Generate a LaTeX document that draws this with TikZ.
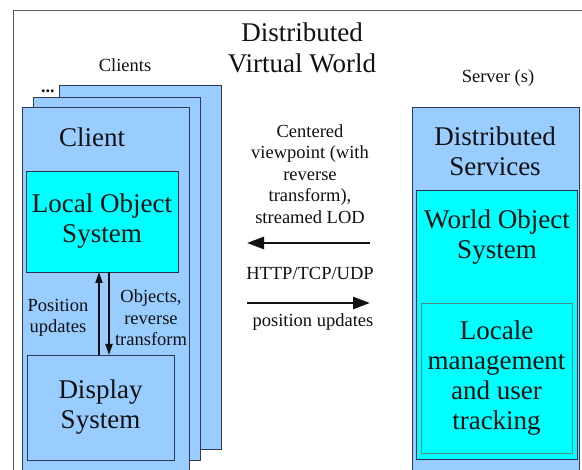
\documentclass[tikz,border=0pt]{standalone}
\usepackage{fontspec}
\setmainfont{Liberation Serif}[Ligatures=TeX]
\newfontfamily\tnr{Liberation Serif}
\usetikzlibrary{arrows.meta}
\definecolor{lb}{HTML}{99CCFF}
\definecolor{cy}{HTML}{00FFFF}
\definecolor{edgec}{HTML}{2F3858}
\definecolor{framec}{HTML}{5A5A5A}
\definecolor{ink}{HTML}{111111}
\definecolor{tealc}{HTML}{4A8C8C}
\newcommand{\bigtxt}{\tnr\fontsize{27}{30}\selectfont}
\newcommand{\smalltxt}{\tnr\fontsize{18.5}{21.5}\selectfont}
\begin{document}
\begin{tikzpicture}[x=1pt,y=-1pt,
  card/.style={draw=edgec, fill=lb, line width=0.9pt, inner sep=0pt, outer sep=0pt},
  cybox/.style={draw=edgec!80!black, fill=cy, line width=0.8pt, inner sep=0pt, outer sep=0pt, align=center, text=ink, font=\bigtxt},
  bluebox/.style={draw=edgec, fill=lb, line width=0.8pt, inner sep=0pt, outer sep=0pt, align=center, text=ink, font=\bigtxt},
  big/.style={align=center, text=ink, font=\bigtxt, inner sep=0pt},
  small/.style={align=center, text=ink, font=\smalltxt, inner sep=0pt},
  thinarr/.style={line width=1.8pt, ink, -{Triangle[length=11pt,width=7pt]}},
  thickarr/.style={line width=2.6pt, ink, -{Triangle[length=17pt,width=12pt]}}
]
\useasboundingbox (0,0) rectangle (582,470);
\clip (0,0) rectangle (582,470);
\fill[white] (0,0) rectangle (582,470);

% outer frame
\draw[framec, line width=0.9pt] (13,490) -- (13,10) -- (600,10);

% title
\node[big, font=\tnr\fontsize{27}{31}\selectfont] (title) at (302,48) {Distributed\\Virtual World};

% clients stack
\node[small] (clients) at (125,65) {Clients};
\node[card, minimum width=162pt, minimum height=364pt] (back) at (140,267) {};
\node[small, font=\tnr\fontsize{18}{20}\selectfont\bfseries] (dots) at (48,91) {...};
\node[card, minimum width=167pt, minimum height=363pt] (middle) at (116.5,278.5) {};
\node[card, minimum width=167pt, minimum height=373pt] (front) at (105.5,293.5) {};
\node[big] (clientlbl) at (92,137) {Client};

\node[cybox, minimum width=152pt, minimum height=101pt] (los) at (102,221.5) {Local Object\\System};
\node[bluebox, minimum width=147pt, minimum height=105pt] (disp) at (100.5,407.5) {Display\\System};

\coordinate (ux) at (99,0);
\coordinate (dx) at (109,0);
\draw[thinarr] (disp.north -| ux) -- (los.south -| ux);
\draw[thinarr] (los.south -| dx) -- (disp.north -| dx);
\node[small] (posup) at (58,318) {Position\\updates};
\node[small] (objrev) at (151,318) {Objects,\\reverse\\transform};

% middle communication
\node[small] (centered) at (310,174) {Centered\\viewpoint (with\\reverse\\transform),\\streamed LOD};
\coordinate (la1) at (370,243);
\coordinate (la2) at (247,243);
\draw[thickarr] (la1) -- (la2);
\node[small] (http) at (310,273) {HTTP/TCP/UDP};
\coordinate (ra1) at (247,303);
\coordinate (ra2) at (370,303);
\draw[thickarr] (ra1) -- (ra2);
\node[small] (posup2) at (313,322) {position updates};

% server
\node[small] (serverlbl) at (498,78) {Server (s)};
\node[card, minimum width=167pt, minimum height=373pt] (server) at (495.5,293.5) {};
\node[big] (dslbl) at (495,151) {Distributed\\Services};
\node[cybox, minimum width=161pt, minimum height=269pt] (wos) at (496.5,324.5) {};
\node[big] (woslbl) at (497,237) {World Object\\System};
\node[cybox, draw=tealc, line width=0.6pt, minimum width=151pt, minimum height=150pt] (locale) at (496.5,378) {Locale\\management\\and user\\tracking};
\end{tikzpicture}
\end{document}
